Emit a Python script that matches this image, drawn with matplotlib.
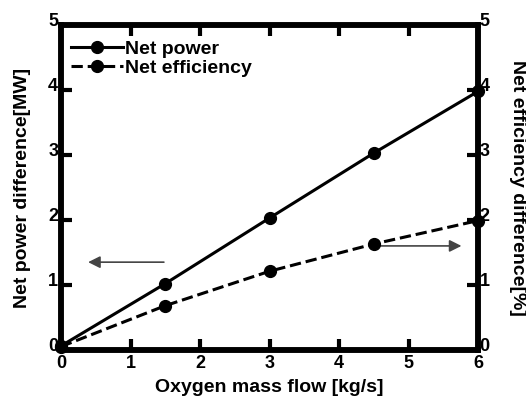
import matplotlib.pyplot as plt
import matplotlib.transforms as mtransforms

# data
oxygen_flow = [0, 1.5, 3, 4.5, 6]
net_power = [0.06, 1.02, 2.03, 3.03, 3.98]
net_efficiency = [0.05, 0.68, 1.21, 1.63, 1.99]

plt.rcParams['font.family'] = ['Liberation Sans', 'DejaVu Sans']
plt.rcParams['font.weight'] = 'bold'

fig, ax = plt.subplots(figsize=(5.26, 3.98), dpi=100)
fig.subplots_adjust(left=0.116, right=0.909, top=0.937, bottom=0.121)

ax.plot(oxygen_flow, net_power, 'k-o', linewidth=2.2, markersize=8.5,
        label='Net power', clip_on=False, zorder=5)
ax.plot(oxygen_flow, net_efficiency, 'k--o', linewidth=2.2, markersize=8.5,
        label='Net efficiency', clip_on=False, zorder=5)

ax.set_xlim(0, 6)
ax.set_ylim(0, 5)
ax.set_xticks(range(0, 7))
ax.set_yticks(range(0, 6))

for s in ax.spines.values():
    s.set_linewidth(4)
ax.tick_params(direction='in', length=8, width=3, labelsize=13,
               top=True, right=False)
ax.tick_params(axis='x', pad=4)
ax.tick_params(axis='y', pad=2)

ax.set_xlabel('Oxygen mass flow [kg/s]', fontsize=14, fontweight='bold', labelpad=5)
ax.set_ylabel('Net power difference[MW]', fontsize=14, fontweight='bold', labelpad=12)

ax2 = ax.twinx()
ax2.set_ylim(0, 5)
ax2.set_yticks(range(0, 6))
for s in ax2.spines.values():
    s.set_linewidth(4)
ax2.tick_params(direction='in', length=8, width=3, labelsize=13, pad=1)
ax2.set_ylabel('Net efficiency difference[%]', fontsize=14, fontweight='bold',
               rotation=-90, labelpad=26)

# y tick labels sit a little above their ticks in the original
shift_up = mtransforms.ScaledTranslation(0, 4 / 72, fig.dpi_scale_trans)
for lbl in ax.get_yticklabels() + ax2.get_yticklabels():
    lbl.set_transform(lbl.get_transform() + shift_up)

# arrows pointing to each axis
ax.annotate('', xy=(0.35, 1.35), xytext=(1.52, 1.35),
            arrowprops=dict(arrowstyle='-|>', color='#444444', lw=1.2,
                            mutation_scale=18))
ax.annotate('', xy=(5.8, 1.6), xytext=(4.52, 1.6),
            arrowprops=dict(arrowstyle='-|>', color='#444444', lw=1.2,
                            mutation_scale=18))

leg = ax.legend(loc='upper left', bbox_to_anchor=(0.0094, 0.970), frameon=False,
                fontsize=14, handlelength=2.7, handletextpad=0.1,
                borderaxespad=0, borderpad=0.3, labelspacing=0.05)

fig.savefig('out.png', dpi=100)
